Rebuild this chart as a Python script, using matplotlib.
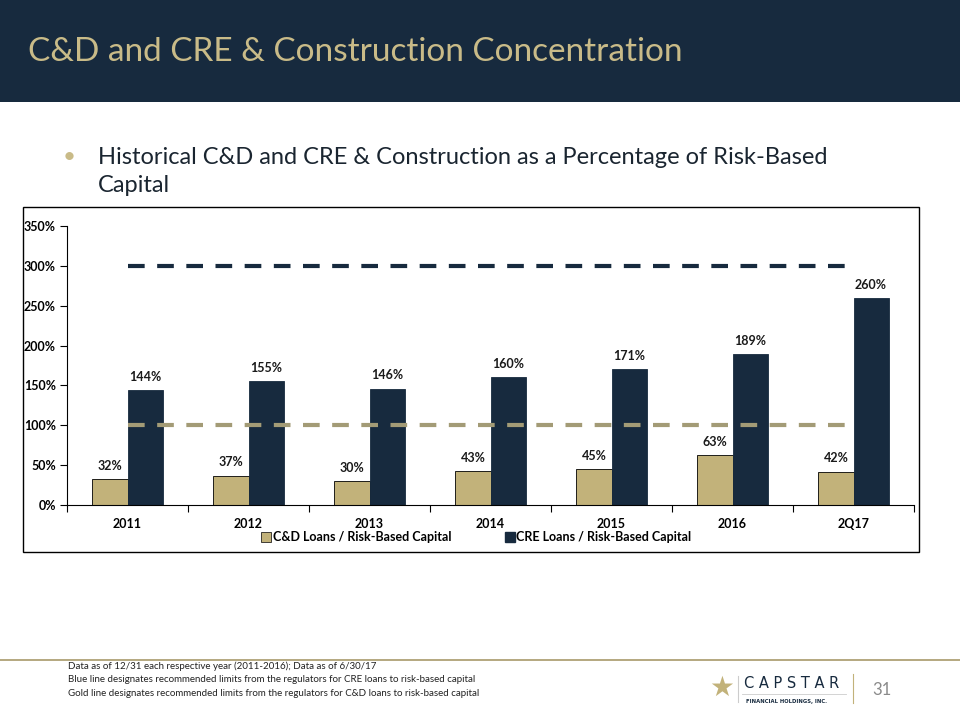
import matplotlib
matplotlib.use("Agg")
import matplotlib.pyplot as plt
from matplotlib.patches import Rectangle
from matplotlib.lines import Line2D
import numpy as np

periods = ["2011", "2012", "2013", "2014", "2015", "2016", "2Q17"]
cd_pct = [32, 37, 30, 43, 45, 63, 42]
cre_pct = [144, 155, 146, 160, 171, 189, 260]
cre_limit = 300
cd_limit = 100
y_ticks = [0, 50, 100, 150, 200, 250, 300, 350]

navy = "#172a3e"
gold = "#c2b27a"
gold_line = "#a39b76"
title_gold = "#c9bb88"
FONT = "Lato"


def main() -> None:
    fig = plt.figure(figsize=(9.6, 7.2), dpi=100)
    W, H = 960, 720

    def fx(x):
        return x / W

    def fy(y):
        return 1 - y / H

    # header band
    fig.patches.append(Rectangle((0, fy(102)), 1, 102 / H, transform=fig.transFigure,
                                 facecolor=navy, edgecolor="none", zorder=0))
    fig.text(fx(28), fy(52), "C&D and CRE & Construction Concentration", color=title_gold,
             fontsize=24, family=FONT, va="center", ha="left")

    # bullet
    fig.text(fx(63), fy(157), "\u2022", color=title_gold, fontsize=16, family=FONT, va="center")
    fig.text(fx(98), fy(157), "Historical C&D and CRE & Construction as a Percentage of Risk-Based",
             color="#1a2530", fontsize=17, family=FONT, va="center")
    fig.text(fx(98), fy(186), "Capital", color="#1a2530", fontsize=17, family=FONT, va="center")

    # chart frame
    fig.patches.append(Rectangle((fx(23), fy(552)), (919 - 23) / W, (552 - 207) / H,
                                 transform=fig.transFigure, facecolor="none",
                                 edgecolor="black", linewidth=1.0))

    ax = fig.add_axes([fx(67), fy(505), (914 - 67) / W, (505 - 226) / H])
    x = np.arange(len(periods))
    w = 0.29
    ax.bar(x - w / 2, cd_pct, w, color=gold, edgecolor="black", linewidth=0.6,
           label="C&D Loans / Risk-Based Capital", zorder=2)
    ax.bar(x + w / 2, cre_pct, w, color=navy, edgecolor=navy, linewidth=0.6,
           label="CRE Loans / Risk-Based Capital", zorder=2)

    ax.plot([x[0], x[-1]], [cre_limit, cre_limit], color=navy, linestyle=(0, (4, 3)),
            linewidth=3, zorder=3)
    ax.plot([x[0], x[-1]], [cd_limit, cd_limit], color=gold_line, linestyle=(0, (4, 3)),
            linewidth=3, zorder=3)

    for i in range(len(periods)):
        ax.text(x[i] - w / 2, cd_pct[i] + 9, f"{cd_pct[i]}%", ha="center", va="bottom",
                fontsize=9, fontweight="bold", family=FONT, color="#1a1a1a")
        ax.text(x[i] + w / 2, cre_pct[i] + 9, f"{cre_pct[i]}%", ha="center", va="bottom",
                fontsize=9, fontweight="bold", family=FONT, color="#1a1a1a")

    ax.set_xlim(-0.5, len(periods) - 0.5)
    ax.set_ylim(0, 350)
    ax.set_yticks(y_ticks)
    ax.set_yticklabels([f"{t}%" for t in y_ticks], fontsize=9, fontweight="bold", family=FONT)
    ax.set_xticks(np.arange(len(periods) + 1) - 0.5)
    ax.set_xticklabels([])
    ax.set_xticks(x, minor=True)
    ax.set_xticklabels(periods, minor=True, fontsize=9, fontweight="bold", family=FONT)
    ax.tick_params(axis="x", which="minor", length=0, pad=9)
    ax.tick_params(axis="x", which="major", length=5, width=0.8, direction="out")
    ax.tick_params(axis="y", length=5, width=0.8, direction="out", pad=3)
    for s in ["top", "right"]:
        ax.spines[s].set_visible(False)
    ax.spines["left"].set_linewidth(0.8)
    ax.spines["bottom"].set_linewidth(0.8)

    handles = [
        Line2D([], [], marker="s", linestyle="none", markersize=6.5, markerfacecolor=gold,
               markeredgecolor="black", markeredgewidth=0.5),
        Line2D([], [], marker="s", linestyle="none", markersize=6.5, markerfacecolor=navy,
               markeredgecolor=navy),
    ]
    fig.legend(handles, ["C&D Loans / Risk-Based Capital", "CRE Loans / Risk-Based Capital"],
               loc="center", bbox_to_anchor=(fx(476), fy(537)), ncol=2, frameon=False,
               prop={"family": FONT, "weight": "bold", "size": 9},
               handletextpad=0.1, columnspacing=4.2, handlelength=0.9)

    # footer
    fig.add_artist(Line2D([0, 1], [fy(660), fy(660)], transform=fig.transFigure,
                          color="#a89a6a", linewidth=1.2))
    notes = [
        "Data as of 12/31 each respective year (2011-2016); Data as of 6/30/17",
        "Blue line designates recommended limits from the regulators for CRE loans to risk-based capital",
        "Gold line designates recommended limits from the regulators for C&D loans to risk-based capital",
    ]
    for i, n in enumerate(notes):
        fig.text(fx(68), fy(666 + 13.5 * i), n, fontsize=7.0, family=FONT, color="#222222",
                 va="center")

    # logo
    fig.text(fx(722), fy(688), "\u2605", fontsize=20, color=gold, family="DejaVu Sans",
             ha="center", va="center")
    fig.add_artist(Line2D([fx(738), fx(738)], [fy(676), fy(702)], transform=fig.transFigure,
                          color="#cccccc", linewidth=0.8))
    fig.text(fx(744), fy(684), "C A P S T A R", fontsize=10.5, color=navy, family="DejaVu Sans",
             va="center", ha="left")
    fig.add_artist(Line2D([fx(742), fx(846)], [fy(694), fy(694)], transform=fig.transFigure,
                          color="#cccccc", linewidth=0.6))
    fig.text(fx(746), fy(701), "FINANCIAL HOLDINGS, INC.", fontsize=3.8, color=navy,
             family="DejaVu Sans", fontweight="bold", va="center", ha="left")
    fig.add_artist(Line2D([fx(853), fx(853)], [fy(674), fy(703)], transform=fig.transFigure,
                          color="#c2b27a", linewidth=0.8))
    fig.text(fx(882), fy(690), "31", fontsize=12, color="#8a8a8a", family=FONT,
             va="center", ha="center")

    fig.savefig("out.png", dpi=100)


if __name__ == "__main__":
    main()
